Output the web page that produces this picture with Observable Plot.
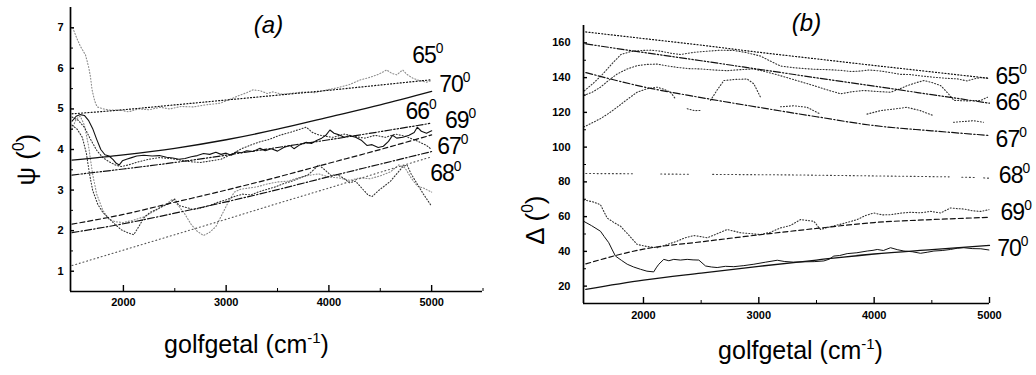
<!DOCTYPE html>
<html><head><meta charset="utf-8">
<script src="https://cdn.jsdelivr.net/npm/d3@7"></script>
<script src="https://cdn.jsdelivr.net/npm/@observablehq/plot@0.6"></script>
<style>
body{margin:0;background:#fff;}
#wrap{display:flex;width:1036px;height:375px;overflow:hidden;}
#wrap svg{display:block;}
</style></head><body><div id="wrap"></div>
<script>
// ---------- shared ----------
const angles = ["65","66","67","68","69","70"];
const fitX = [1500,2000,2500,3000,3500,4000,4500,5000];
const xTicks = [2000,3000,4000,5000];
const xMinorA = [2500,3500,4500,5500];
const xMinorB = [2500,3500,4500];

// ---------- panel (a): psi ----------
const psiTicks = [1,2,3,4,5,6,7];
const psiMinor = [1.5,2.5,3.5,4.5,5.5,6.5];
const psiFit65 = [4.88,4.98,5.10,5.22,5.34,5.46,5.59,5.72];
const psiFit66 = [3.37,3.52,3.68,3.86,4.05,4.24,4.44,4.65];
const psiFit67 = [1.95,2.17,2.43,2.71,3.01,3.33,3.64,3.95];
const psiFit68 = [1.14,1.52,1.90,2.28,2.67,3.05,3.44,3.82];
const psiFit69 = [2.16,2.40,2.70,3.00,3.32,3.66,4.00,4.36];
const psiFit70 = [3.74,3.87,4.03,4.24,4.50,4.80,5.10,5.43];

const psiMeas65 = [[1507,7.0],[1545,6.75],[1582,6.54],[1631,6.33],[1660,6.05],[1679,5.8],[1695,5.47],[1720,5.2],[1744,5.05],[1806,5.0],[1873,4.97],[1970,4.97],[2050,4.93],[2150,5.0],[2250,4.98],[2359,5.04],[2450,5.0],[2560,5.06],[2680,5.05],[2800,5.1],[2941,5.14],[3040,5.24],[3135,5.34],[3200,5.4],[3262,5.47],[3330,5.45],[3400,5.38],[3456,5.42],[3550,5.36],[3650,5.39],[3760,5.42],[3860,5.4],[3980,5.47],[4080,5.52],[4200,5.6],[4300,5.71],[4400,5.78],[4480,5.85],[4563,5.96],[4610,5.88],[4660,5.84],[4718,5.96],[4760,5.85],[4815,5.76],[4880,5.7],[4951,5.66],[5000,5.7]];
const psiMeas66 = [[1500,4.80],[1560,4.72],[1620,4.55],[1680,4.25],[1740,3.98],[1800,3.80],[1860,3.70],[1920,3.62],[1980,3.58],[2050,3.62],[2150,3.70],[2250,3.76],[2350,3.80],[2450,3.78],[2550,3.74],[2650,3.70],[2750,3.68],[2850,3.72],[2950,3.76],[3050,3.88],[3150,4.02],[3250,4.12],[3330,4.19],[3420,4.25],[3520,4.35],[3620,4.42],[3720,4.50],[3780,4.55],[3840,4.42],[3900,4.36],[3980,4.32],[4040,4.30],[4150,4.38],[4250,4.32],[4350,4.28],[4450,4.35],[4550,4.30],[4650,4.38],[4750,4.32],[4850,4.22],[4950,4.10],[5000,4.00]];
const psiMeas67 = [[1500,4.60],[1550,4.50],[1600,4.30],[1640,3.90],[1670,3.40],[1700,3.00],[1750,2.65],[1800,2.45],[1860,2.30],[1920,2.15],[1980,2.02],[2040,1.95],[2100,1.90],[2150,2.10],[2200,2.32],[2260,2.45],[2320,2.52],[2380,2.60],[2440,2.66],[2500,2.78],[2540,2.62],[2600,2.58],[2680,2.52],[2760,2.56],[2840,2.62],[2920,2.70],[3000,2.76],[3080,2.84],[3160,2.90],[3240,2.88],[3320,2.96],[3400,3.02],[3480,3.08],[3560,3.16],[3640,3.22],[3720,3.30],[3800,3.38],[3860,3.52],[3900,3.62],[3960,3.50],[4020,3.36],[4080,3.38],[4140,3.30],[4200,3.18],[4260,3.22],[4320,3.05],[4380,2.88],[4420,2.84],[4480,2.98],[4540,3.10],[4600,3.22],[4660,3.40],[4720,3.58],[4760,3.62],[4800,3.40],[4860,3.15],[4920,2.90],[4960,2.75],[5000,2.60]];
const psiMeas68 = [[1500,4.50],[1540,4.75],[1580,4.82],[1620,4.60],[1660,4.10],[1700,3.40],[1740,2.90],[1800,2.50],[1860,2.28],[1920,2.22],[2000,2.20],[2100,2.26],[2200,2.34],[2300,2.48],[2400,2.62],[2480,2.78],[2540,2.60],[2600,2.40],[2660,2.15],[2720,1.98],[2780,1.88],[2840,1.96],[2900,2.10],[2960,2.40],[3020,2.70],[3080,2.95],[3140,3.02],[3220,3.05],[3300,3.08],[3400,3.15],[3500,3.20],[3600,3.22],[3700,3.30],[3800,3.36],[3900,3.40],[4000,3.32],[4100,3.30],[4200,3.24],[4300,3.30],[4400,3.28],[4500,3.35],[4600,3.45],[4680,3.62],[4740,3.55],[4800,3.30],[4860,3.10],[4920,3.05],[5000,2.95]];
const psiMeas70 = [[1500,4.70],[1540,4.82],[1580,4.86],[1620,4.84],[1660,4.72],[1700,4.52],[1740,4.25],[1780,4.0],[1820,3.87],[1860,3.84],[1900,3.75],[1930,3.66],[1960,3.62],[1990,3.72],[2030,3.76],[2080,3.80],[2130,3.84],[2200,3.86],[2280,3.84],[2350,3.85],[2420,3.81],[2480,3.79],[2540,3.76],[2600,3.78],[2660,3.82],[2720,3.85],[2780,3.90],[2840,3.88],[2900,3.93],[2950,3.88],[3000,3.91],[3050,3.86],[3100,3.94],[3150,3.92],[3200,3.97],[3260,3.95],[3330,4.03],[3380,3.97],[3440,4.02],[3500,3.96],[3560,4.05],[3620,4.1],[3660,4.02],[3720,4.12],[3780,4.18],[3830,4.15],[3880,4.22],[3930,4.28],[3970,4.35],[4010,4.48],[4050,4.40],[4100,4.36],[4150,4.30],[4200,4.34],[4260,4.30],[4320,4.22],[4370,4.10],[4420,4.12],[4480,4.05],[4530,4.08],[4580,4.20],[4620,4.35],[4660,4.28],[4720,4.30],[4780,4.35],[4830,4.42],[4860,4.55],[4900,4.45],[4950,4.40],[5000,4.46]];
const psiLabelX = [4811,4745,5054,4986,5130,5073];
const psiLabelY = [6.13,4.74,3.88,3.22,4.54,5.42];

// ---------- panel (b): delta ----------
const deltaTicks = [20,40,60,80,100,120,140,160];
const deltaMinor = [30,50,70,90,110,130,150];
const deltaFit65 = [166.3,162.5,158.7,154.6,150.8,147.0,143.3,139.6];
const deltaFit66 = [159.4,154.5,149.7,144.8,139.9,135.1,130.2,125.3];
const deltaFit67 = [142.9,134.7,128.5,122.9,117.5,112.4,109.4,106.7];
const deltaFit69 = [32.8,41.3,45.5,49.5,53.2,56.6,58.3,59.6];
const deltaFit70 = [18.1,23.4,27.5,31.4,35.0,38.5,41.0,43.4];
const deltaLine68 = [[1500,84.8],[1910,84.7],[1960,null],[2150,84.5],[2390,84.4],[2450,null],[2600,84.3],[3300,84.0],[4650,82.9],[4700,null],[4760,82.7],[4880,82.5],[4920,null],[4950,82.3],[5000,82.1]];

const deltaMeas65 = [[1487,132.4],[1560,136.5],[1631,140.9],[1720,147.5],[1804,153.3],[1890,155.0],[1977,155.6],[2060,155.8],[2150,155.2],[2240,154.0],[2323,153.3],[2440,154.6],[2554,155.2],[2670,155.8],[2785,155.6],[2900,154.3],[3015,152.4],[3100,149.5],[3188,146.7],[3304,145.7],[3400,145.2],[3477,144.8],[3600,144.6],[3708,144.2],[3800,143.5],[3881,143.8],[3960,144.4],[4054,143.8],[4140,142.9],[4227,141.9],[4310,141.8],[4400,141.0],[4520,140.2],[4631,139.6],[4720,139.3],[4804,138.1],[4870,139.3],[4919,140.0],[5000,139.6]];
const deltaMeas66 = [[1482,129.7],[1555,131.6],[1627,134.5],[1700,138.5],[1772,142.1],[1860,145.0],[1945,146.9],[2030,147.6],[2119,147.8],[2200,146.8],[2292,145.9],[2390,145.2],[2494,145.0],[2610,144.4],[2726,144.0],[2840,144.6],[2957,145.0],[3070,143.2],[3188,141.1],[3330,138.3],[3477,135.4],[3600,132.8],[3709,130.7],[3810,131.9],[3908,132.6],[4030,132.0],[4142,131.6],[4220,133.5],[4287,135.4],[4360,137.0],[4431,138.3],[4500,137.2],[4577,135.4],[4640,131.0],[4692,126.9],[4810,126.6],[4925,126.9],[4983,128.7]];
const deltaMeas67 = [[1482,111.6],[1550,113.8],[1627,116.4],[1700,119.5],[1772,123.0],[1860,127.5],[1945,131.6],[2030,133.6],[2119,134.5],[2180,133.2],[2234,131.6],[2277,127.8],[2320,null],[2379,122.1],[2440,121.0],[2494,121.1],[2540,null],[2581,126.9],[2640,133.0],[2697,138.3],[2800,139.0],[2899,139.2],[2957,136.4],[3015,128.7],[3080,null],[3188,123.2],[3304,123.8],[3419,122.9],[3534,119.0],[3600,null],[3938,119.0],[4054,121.0],[4169,121.9],[4284,122.9],[4400,121.0],[4515,118.1],[4560,null],[4688,114.3],[4861,115.2],[4948,114.3]];
const deltaMeas69 = [[1482,69.7],[1560,68.5],[1627,66.9],[1685,59.2],[1740,56.8],[1801,54.5],[1870,49.5],[1945,44.0],[2030,42.8],[2119,42.1],[2200,43.8],[2292,45.9],[2360,47.8],[2436,49.1],[2500,48.5],[2552,47.8],[2640,50.2],[2726,52.6],[2842,50.7],[2930,50.2],[3015,49.7],[3100,51.0],[3188,53.5],[3275,54.9],[3362,58.3],[3420,57.8],[3477,57.3],[3535,52.6],[3620,54.2],[3720,55.8],[3853,58.3],[3920,60.5],[3997,62.1],[4070,61.0],[4142,61.1],[4230,62.0],[4315,62.5],[4400,62.2],[4489,63.0],[4576,62.1],[4662,65.0],[4720,64.6],[4778,64.4],[4850,63.4],[4925,63.0],[4995,64.0]];
const deltaMeas70 = [[1482,57.3],[1550,54.8],[1627,51.6],[1660,48.5],[1699,45.0],[1730,40.8],[1757,37.3],[1810,34.8],[1859,32.6],[1915,31.0],[1974,29.7],[2030,28.6],[2089,28.2],[2110,30.5],[2133,32.6],[2176,35.4],[2220,34.6],[2263,35.4],[2320,35.0],[2379,35.4],[2430,35.1],[2480,35.0],[2538,31.6],[2590,31.0],[2639,30.7],[2710,31.4],[2783,31.2],[2870,31.8],[2957,32.6],[3060,33.8],[3160,34.9],[3220,34.2],[3300,33.8],[3400,34.0],[3480,34.1],[3564,34.5],[3610,35.5],[3650,37.3],[3700,37.6],[3766,38.7],[3850,39.2],[3940,40.2],[3990,40.6],[4027,41.1],[4080,40.5],[4142,42.1],[4200,41.0],[4258,40.2],[4330,39.8],[4402,38.9],[4460,39.5],[4518,40.2],[4590,40.5],[4662,41.1],[4720,41.8],[4778,42.1],[4850,41.6],[4925,41.5],[4995,40.8]];
const deltaLabelX = [5053,5053,5053,5081,5096,5067];
const deltaLabelY = [136.4,121.1,100.2,79.3,58.3,37.3];

// ---------- styles ----------
const dash = {"65":"1,2.2","66":"7,2,1.4,2,1.4,2","67":"7,2.2,1.4,2.2","68":"1,2.8","69":"5,3","70":null};
const FONT = "'Liberation Sans',Arial,sans-serif";

function toRows(xs, ys){ return xs.map((x,i)=>({x, y: ys[i]})); }
function pairRows(p){ return p.map(d=>({x:d[0], y:d[1]})); }

function fitMark(rows, ang){
  return Plot.line(rows, {x:"x", y:"y", curve:"monotone-x", stroke:"#111",
    strokeWidth: dash[ang] ? 1.2 : 1.3, strokeDasharray: dash[ang] || undefined});
}
function measMark(rows, color){
  return Plot.line(rows, {x:"x", y:"y", stroke: color, strokeWidth:1.1, strokeDasharray: "1,2"});
}

function supify(svg){
  svg.querySelectorAll("text").forEach(t=>{
    const s = t.textContent;
    if (!s.includes("^")) return;
    const fs = parseFloat(getComputedStyle(t).fontSize) || 16;
    const parts = s.split("^");
    if (/^\d\d\^0\^$/.test(s)) t.setAttribute("letter-spacing", "-1px");
    while (t.firstChild) t.removeChild(t.firstChild);
    parts.forEach((p,i)=>{
      if (!p) return;
      const ts = document.createElementNS("http://www.w3.org/2000/svg","tspan");
      ts.textContent = p;
      if (i % 2) { ts.setAttribute("font-size", (fs*0.6)+"px"); ts.setAttribute("baseline-shift", (fs*0.42)+"px"); }
      t.appendChild(ts);
    });
  });
}

const fmt = d => String(d);

function panel(cfg){
  const labelRows = angles.map((a,i)=>({t: a+"^0^", x: cfg.labelX[i], y: cfg.labelY[i]}));
  const yLabelRows = [{t: cfg.ylabel, x: cfg.xDomain[0], y: cfg.ylY}];
  return Plot.plot({
    width: cfg.width, height: 375,
    marginLeft: cfg.ml, marginRight: cfg.mr, marginTop: cfg.mt, marginBottom: cfg.mb,
    x: {domain: cfg.xDomain},
    y: {domain: cfg.yDomain},
    style: {background:"#fff", color:"#000", fontFamily: FONT},
    marks: [
      ...cfg.marks,
      Plot.ruleY([cfg.yDomain[0]], {stroke:"#000", strokeWidth:1.7}),
      Plot.ruleX([cfg.xDomain[0]], {stroke:"#000", strokeWidth:1.7}),
      Plot.axisY({ticks: cfg.yTicks, tickSize:-4, tickPadding: cfg.yPad, tickFormat: fmt, fontSize:11, fontWeight:"bold", strokeWidth:1.4, label:null}),
      Plot.axisY({ticks: cfg.yMinor, tickSize:-3, tickFormat:()=>"", label:null}),
      Plot.axisX({ticks: xTicks, tickSize:-6, tickPadding: cfg.xPad, tickFormat: fmt, fontSize:11, fontWeight:"bold", strokeWidth:1.4, label:null}),
      Plot.axisX({ticks: cfg.xMinor, tickSize:-3, tickFormat:()=>"", label:null}),
      Plot.text(labelRows, {x:"x", y:"y", text:"t", textAnchor:"start", lineAnchor:"bottom", fontSize:23, fontFamily: FONT, fill:"#000"}),
      Plot.text([cfg.title], {frameAnchor:"top", dx: cfg.titleDx, dy: cfg.titleDy, lineAnchor:"bottom", fontSize:24, fontStyle:"italic", fontFamily: FONT}),
      Plot.text(["golfgetal (cm^-1^)"], {frameAnchor:"bottom", dx: cfg.xlDx, dy: cfg.xlDy, lineAnchor:"bottom", fontSize:25, fontFamily: FONT}),
      Plot.text(yLabelRows, {x:"x", y:"y", text:"t", dx: cfg.ylDx, rotate:-90, textAnchor:"middle", lineAnchor:"middle", fontSize:26, fontFamily: FONT})
    ]
  });
}

const grayLight = "#8a8a8a", grayDark = "#333";

const plotA = panel({
  width: 520, ml: 70, mr: 38, mt: 7, mb: 84,
  xDomain: [1485, 5495], yDomain: [0.5, 7.5],
  yTicks: psiTicks, yMinor: psiMinor, xMinor: xMinorA, yPad: 11, xPad: 13,
  labelX: psiLabelX, labelY: psiLabelY,
  title: "(a)", titleDx: -8, titleDy: 25,
  ylabel: "ψ (^0^)", ylY: 3.75, ylDx: -44,
  xlDx: -30, xlDy: 61,
  marks: [
    measMark(pairRows(psiMeas65), grayLight),
    measMark(pairRows(psiMeas68), grayLight),
    measMark(pairRows(psiMeas67), grayDark),
    measMark(pairRows(psiMeas66), grayDark),
    Plot.line(pairRows(psiMeas70), {x:"x", y:"y", stroke:"#111", strokeWidth:1.1}),
    fitMark(toRows(fitX, psiFit65), "65"),
    fitMark(toRows(fitX, psiFit66), "66"),
    fitMark(toRows(fitX, psiFit67), "67"),
    Plot.line(toRows(fitX, psiFit68), {x:"x", y:"y", stroke:"#555", strokeWidth:1.1, strokeDasharray: dash["68"]}),
    fitMark(toRows(fitX, psiFit69), "69"),
    fitMark(toRows(fitX, psiFit70), "70")
  ]
});

const plotB = panel({
  width: 516, ml: 63, mr: 47, mt: 25, mb: 72,
  xDomain: [1480, 5000], yDomain: [10, 170],
  yTicks: deltaTicks, yMinor: deltaMinor, xMinor: xMinorB, yPad: 17, xPad: 14,
  labelX: deltaLabelX, labelY: deltaLabelY,
  title: "(b)", titleDx: 20, titleDy: 5,
  ylabel: "Δ (^0^)", ylY: 58, ylDx: -48,
  xlDx: 14, xlDy: 55,
  marks: [
    measMark(pairRows(deltaMeas65), grayDark),
    measMark(pairRows(deltaMeas66), grayDark),
    measMark(pairRows(deltaMeas67), grayDark),
    measMark(pairRows(deltaMeas69), grayDark),
    Plot.line(pairRows(deltaMeas70), {x:"x", y:"y", stroke:"#111", strokeWidth:1.0}),
    fitMark(toRows(fitX, deltaFit65), "65"),
    fitMark(toRows(fitX, deltaFit66), "66"),
    fitMark(toRows(fitX, deltaFit67), "67"),
    Plot.line(pairRows(deltaLine68), {x:"x", y:"y", stroke:"#444", strokeWidth:1.1, strokeDasharray: dash["68"]}),
    fitMark(toRows(fitX, deltaFit69), "69"),
    fitMark(toRows(fitX, deltaFit70), "70")
  ]
});

const wrap = document.getElementById("wrap");
wrap.appendChild(plotA);
wrap.appendChild(plotB);
supify(plotA); supify(plotB);
</script>
</body></html>
